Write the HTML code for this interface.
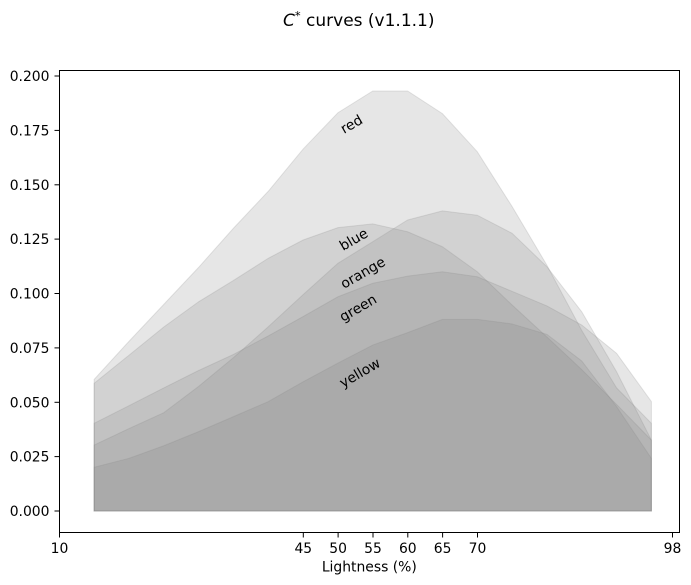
<!DOCTYPE html>
<html>
<head>
<meta charset="utf-8">
<style>
  html, body { margin: 0; padding: 0; background: #ffffff; }
  svg { display: block; }
  text { font-family: "DejaVu Sans", "Liberation Sans", sans-serif; fill: #000; }
</style>
</head>
<body>
<svg width="691" height="585" viewBox="0 0 691 585" xmlns="http://www.w3.org/2000/svg">
  <rect x="0" y="0" width="691" height="585" fill="#ffffff"/>

  <!-- Title -->
  <text x="283" y="26" font-size="17"><tspan font-style="italic">C</tspan><tspan dy="-6.5" font-size="11.5">*</tspan><tspan dy="6.5"> curves (v1.1.1)</tspan></text>

  <!-- Filled areas (data coords: x = L, y = C*) -->
  <g transform="matrix(6.966 0 0 -2175 -10.36 511)" fill="#808080" fill-opacity="0.2" stroke="#808080" stroke-opacity="0.2" stroke-width="1">
    <!-- red -->
    <polygon vector-effect="non-scaling-stroke" points="15,0 15,0.0605 20,0.078 25,0.095 30,0.112 35,0.130 40,0.147 45,0.1664 50,0.1831 55,0.1931 60,0.1931 65,0.1827 70,0.1652 75,0.140 80,0.113 85,0.083 90,0.0566 95,0.0403 95,0"/>
    <!-- blue -->
    <polygon vector-effect="non-scaling-stroke" points="15,0 15,0.0587 20,0.0716 25,0.0846 30,0.0962 35,0.106 40,0.1162 45,0.1246 50,0.1303 55,0.132 60,0.1284 65,0.1215 70,0.110 75,0.0947 80,0.080 85,0.065 90,0.049 95,0.0326 95,0"/>
    <!-- orange -->
    <polygon vector-effect="non-scaling-stroke" points="15,0 15,0.0303 20,0.0379 25,0.0452 30,0.0573 35,0.0705 40,0.0847 45,0.0995 50,0.1139 55,0.1238 60,0.1338 65,0.138 70,0.136 75,0.1277 80,0.1123 85,0.0916 90,0.064 95,0.0326 95,0"/>
    <!-- green -->
    <polygon vector-effect="non-scaling-stroke" points="15,0 15,0.0403 20,0.0484 25,0.0566 30,0.0646 35,0.072 40,0.0805 45,0.0894 50,0.0985 55,0.1047 60,0.108 65,0.110 70,0.1077 75,0.101 80,0.0943 85,0.0855 90,0.0725 95,0.0503 95,0"/>
    <!-- yellow -->
    <polygon vector-effect="non-scaling-stroke" points="15,0 15,0.0201 20,0.0242 25,0.030 30,0.0365 35,0.0434 40,0.0503 45,0.0594 50,0.068 55,0.0763 60,0.082 65,0.0881 70,0.0881 75,0.086 80,0.0812 85,0.069 90,0.048 95,0.0242 95,0"/>
  </g>

  <!-- Curve labels -->
  <g font-size="13.9">
    <text transform="translate(344,134) rotate(-30)">red</text>
    <text transform="translate(343,251) rotate(-30)">blue</text>
    <text transform="translate(344,289) rotate(-30)">orange</text>
    <text transform="translate(343,322) rotate(-30)">green</text>
    <text transform="translate(343,388) rotate(-30)">yellow</text>
  </g>

  <!-- Axes frame -->
  <rect x="59.5" y="70.5" width="620" height="462" fill="none" stroke="#000" stroke-width="1"/>

  <!-- Y ticks -->
  <g stroke="#000" stroke-width="1">
    <line x1="54.5" y1="511" x2="59.5" y2="511"/>
    <line x1="54.5" y1="456.6" x2="59.5" y2="456.6"/>
    <line x1="54.5" y1="402.3" x2="59.5" y2="402.3"/>
    <line x1="54.5" y1="347.9" x2="59.5" y2="347.9"/>
    <line x1="54.5" y1="293.5" x2="59.5" y2="293.5"/>
    <line x1="54.5" y1="239.1" x2="59.5" y2="239.1"/>
    <line x1="54.5" y1="184.8" x2="59.5" y2="184.8"/>
    <line x1="54.5" y1="130.4" x2="59.5" y2="130.4"/>
    <line x1="54.5" y1="76" x2="59.5" y2="76"/>
  </g>
  <g font-size="13.9" text-anchor="end">
    <text x="49.5" y="516">0.000</text>
    <text x="49.5" y="461.6">0.025</text>
    <text x="49.5" y="407.3">0.050</text>
    <text x="49.5" y="352.9">0.075</text>
    <text x="49.5" y="298.5">0.100</text>
    <text x="49.5" y="244.1">0.125</text>
    <text x="49.5" y="189.8">0.150</text>
    <text x="49.5" y="135.4">0.175</text>
    <text x="49.5" y="81">0.200</text>
  </g>

  <!-- X ticks -->
  <g stroke="#000" stroke-width="1">
    <line x1="59.5" y1="532.5" x2="59.5" y2="537.5"/>
    <line x1="303.3" y1="532.5" x2="303.3" y2="537.5"/>
    <line x1="338.1" y1="532.5" x2="338.1" y2="537.5"/>
    <line x1="373" y1="532.5" x2="373" y2="537.5"/>
    <line x1="407.8" y1="532.5" x2="407.8" y2="537.5"/>
    <line x1="442.6" y1="532.5" x2="442.6" y2="537.5"/>
    <line x1="477.5" y1="532.5" x2="477.5" y2="537.5"/>
    <line x1="672.5" y1="532.5" x2="672.5" y2="537.5"/>
  </g>
  <g font-size="13.9" text-anchor="middle">
    <text x="59.5" y="553">10</text>
    <text x="303.3" y="553">45</text>
    <text x="338.1" y="553">50</text>
    <text x="373" y="553">55</text>
    <text x="407.8" y="553">60</text>
    <text x="442.6" y="553">65</text>
    <text x="477.5" y="553">70</text>
    <text x="672.5" y="553">98</text>
  </g>

  <!-- X axis label -->
  <text x="369.3" y="571.5" font-size="13.9" text-anchor="middle">Lightness (%)</text>
</svg>
</body>
</html>
